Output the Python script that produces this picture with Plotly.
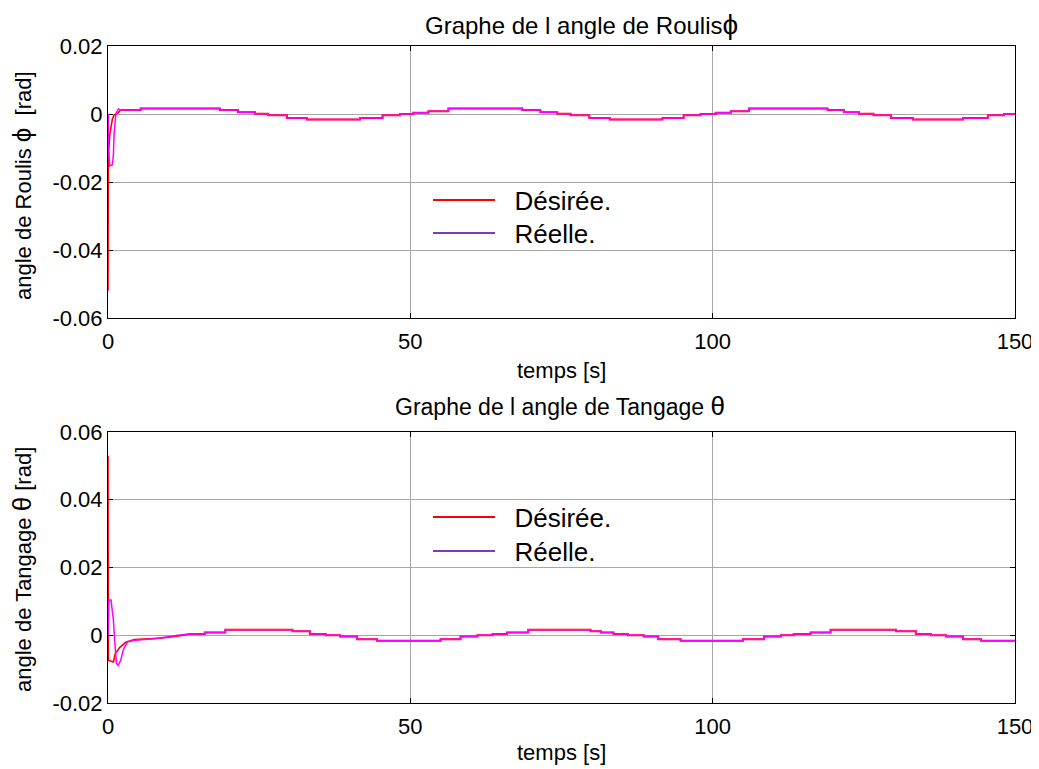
import plotly.graph_objects as go

# ---------------- data ----------------
x_ticks = [0, 50, 100, 150]
x_tick_labels = ["0", "50", "100", "150"]
phi_ticks = [-0.06, -0.04, -0.02, 0, 0.02]
phi_tick_labels = ["-0.06", "-0.04", "-0.02", "0", "0.02"]
theta_ticks = [-0.02, 0, 0.02, 0.04, 0.06]
theta_tick_labels = ["-0.02", "0", "0.02", "0.04", "0.06"]

# Roll angle phi : start-up transient
phi_des_tr_t = [0, 0.05, 0.3, 0.44, 0.72, 1.0, 1.6, 2.1]
phi_des_tr_v = [-0.052, -0.012, -0.006, -0.0039, -0.0015, -0.0003, 0.0002, 0.0012]
phi_real_tr_t = [0, 0.05, 0.3, 0.72, 0.9, 1.0, 1.3, 1.7, 2.1]
phi_real_tr_v = [0, -0.009, -0.0153, -0.015, -0.0118, -0.0059, 0.0, 0.0015, 0.0012]
phi_init_t = [0, 0.02]
phi_init_v = [0, -0.012]
# Roll angle phi : stair-like steady part
phi_t = [2.1, 5.4, 18.5, 21.5, 24.3, 26.5, 29.6, 32.9, 41.7, 45.4, 48.3, 50.5,
         53.0, 56.3, 68.5, 71.5, 74.3, 76.5, 79.6, 83.0, 91.7, 95.2, 98.0, 100.5,
         103.0, 106.0, 119.0, 121.7, 124.2, 126.6, 129.5, 133.1, 141.4, 145.5,
         148.2, 150]
phi_v = [0.0012, 0.0016, 0.0012, 0.0005, 0.0001, -0.0004, -0.0012, -0.0016,
         -0.0012, -0.0004, 0.0, 0.0004, 0.0008, 0.0016, 0.0012, 0.0005, 0.0001,
         -0.0004, -0.0012, -0.0016, -0.0012, -0.0004, 0.0, 0.0004, 0.0008,
         0.0016, 0.0012, 0.0005, 0.0001, -0.0004, -0.0012, -0.0016, -0.0012,
         -0.0004, 0.0, 0.0]

# Pitch angle theta : start-up transient
theta_des_tr_t = [0, 0.05, 0.9, 1.2, 2.0, 3.0, 4.4, 7.0, 9.0, 11.4, 13.6]
theta_des_tr_v = [0.053, -0.0074, -0.0079, -0.0054, -0.0035, -0.002, -0.0013,
                  -0.001, -0.0008, -0.0003, 0.0004]
theta_real_tr_t = [0, 0.15, 0.5, 0.9, 1.1, 1.4, 1.7, 2.1, 2.5, 3.2, 4.4, 7.7,
                   11.5, 13.6]
theta_real_tr_v = [0, 0.0104, 0.0104, 0.0044, -0.0015, -0.0083, -0.0089,
                   -0.0074, -0.0044, -0.002, -0.0015, -0.001, 0.0, 0.0004]
theta_init_t = [0, 0.02]
theta_init_v = [0, 0.0104]
# Pitch angle theta : stair-like steady part
theta_t = [13.6, 16.0, 19.4, 30.5, 33.4, 36.0, 38.4, 41.2, 44.5, 55.0, 58.3,
           61.1, 63.6, 66.0, 69.5, 79.8, 81.5, 83.6, 86.0, 88.6, 91.0, 94.7,
           105.0, 108.5, 111.3, 113.4, 116.2, 119.5, 130.3, 133.6, 136.1,
           138.6, 141.4, 144.4, 150]
theta_v = [0.0004, 0.0008, 0.0016, 0.0012, 0.0004, 0.0, -0.0004, -0.0012,
           -0.0016, -0.0012, -0.0004, 0.0, 0.0004, 0.0008, 0.0016, 0.0012,
           0.0008, 0.0004, 0.0, -0.0004, -0.0012, -0.0016, -0.0012, -0.0004,
           0.0, 0.0004, 0.0008, 0.0016, 0.0012, 0.0004, 0.0, -0.0004, -0.0012,
           -0.0016, -0.0016]

legend_labels = ["Désirée.", "Réelle."]

# ---------------- styles ----------------
RED = "#FF0000"
MAGENTA = "#FF00FF"
PURPLE = "#7B3BB5"
FONT = "Liberation Sans, Arial, sans-serif"

fig = go.Figure()


def add(x, y, color, width, xa, ya, shape="linear"):
    fig.add_trace(go.Scatter(x=x, y=y, mode="lines", xaxis=xa, yaxis=ya,
                             line=dict(color=color, width=width, shape=shape),
                             showlegend=False, hoverinfo="skip"))


# top subplot
add(phi_des_tr_t, phi_des_tr_v, RED, 1.6, "x", "y")
add(phi_t, phi_v, RED, 2.0, "x", "y", "hv")
add(phi_init_t, phi_init_v, PURPLE, 2, "x", "y")
add(phi_real_tr_t, phi_real_tr_v, MAGENTA, 1.5, "x", "y")
add(phi_t, phi_v, MAGENTA, 1.5, "x", "y", "hv")
# bottom subplot
add(theta_des_tr_t, theta_des_tr_v, RED, 1.6, "x2", "y2")
add(theta_t, theta_v, RED, 2.0, "x2", "y2", "hv")
add(theta_init_t, theta_init_v, PURPLE, 2, "x2", "y2")
add(theta_real_tr_t, theta_real_tr_v, MAGENTA, 1.5, "x2", "y2")
add(theta_t, theta_v, MAGENTA, 1.5, "x2", "y2", "hv")

# legend entries (one legend per entry so that spacing matches)
GAP = "\u00a0\u00a0"
leg_specs = [("legend", legend_labels[0], RED, "x", "y"),
             ("legend2", legend_labels[1], PURPLE, "x", "y"),
             ("legend3", legend_labels[0], RED, "x2", "y2"),
             ("legend4", legend_labels[1], PURPLE, "x2", "y2")]
for lg, name, col, xa, ya in leg_specs:
    fig.add_trace(go.Scatter(x=[None], y=[None], mode="lines", name=GAP + name,
                             line=dict(color=col, width=2), xaxis=xa, yaxis=ya,
                             legend=lg, showlegend=True))

# The page body has an 8px margin: size the figure so the plot areas land
# at the same screen pixels as the reference.
OFF = 8
W, H = 1039 - OFF, 769 - OFF
L_M, R_M, T_M, B_M = 108 - OFF, 24, 46 - OFF, 66
PW = W - L_M - R_M
PH = H - T_M - B_M


def py(p):  # screen pixel y -> paper
    return (OFF + H - B_M - p) / PH


def px(p):  # screen pixel x -> paper
    return (p - OFF - L_M) / PW


axis_common = dict(showline=True, linecolor="black", linewidth=1, mirror="ticks",
                   ticks="inside", ticklen=5, tickcolor="black", showgrid=True,
                   gridcolor="#a6a6a6", gridwidth=1, zeroline=False,
                   tickfont=dict(family=FONT, size=22, color="black"),
                   layer="below traces")

leg_common = dict(font=dict(family=FONT, size=26, color="black"),
                  bgcolor="rgba(0,0,0,0)", borderwidth=0, itemwidth=62,
                  xanchor="left", yanchor="middle", itemclick=False)

fig.update_layout(
    width=W, height=H,
    margin=dict(l=L_M, r=R_M, t=T_M, b=B_M, autoexpand=False),
    paper_bgcolor="white", plot_bgcolor="white",
    font=dict(family=FONT, color="black"),
    xaxis=dict(domain=[0, 1], range=[0, 150], anchor="y", tickvals=x_ticks,
               ticktext=x_tick_labels, ticklabelstandoff=4, **axis_common),
    yaxis=dict(domain=[py(318), 1], range=[-0.06, 0.02], anchor="x",
               tickvals=phi_ticks, ticktext=phi_tick_labels, **axis_common),
    xaxis2=dict(domain=[0, 1], range=[0, 150], anchor="y2", tickvals=x_ticks,
                ticktext=x_tick_labels, ticklabelstandoff=4, **axis_common),
    yaxis2=dict(domain=[0, py(432)], range=[-0.02, 0.06], anchor="x2",
                tickvals=theta_ticks, ticktext=theta_tick_labels, **axis_common),
    legend=dict(x=px(428), y=py(200), **leg_common),
    legend2=dict(x=px(428), y=py(233), **leg_common),
    legend3=dict(x=px(428), y=py(517), **leg_common),
    legend4=dict(x=px(428), y=py(551), **leg_common),
)

ann = [
    ("Graphe de l angle de Roulis<span style='font-size:28px'>ϕ</span>",
     581, 25, 24, 0),
    ("Graphe de l angle de Tangage <span style='font-size:26px'>θ</span>",
     560, 406, 23, 0),
    ("temps [s]", 561, 370, 22, 0),
    ("temps [s]", 561, 752, 22, 0),
    ("angle de Roulis <span style='font-size:26px'>ϕ</span>  [rad]",
     22, 186, 22, -90),
    ("angle de Tangage <span style='font-size:26px'>θ</span> [rad]",
     22, 570, 22, -90),
]
for text, x, y, size, ang in ann:
    fig.add_annotation(xref="paper", yref="paper", showarrow=False,
                       xanchor="center", yanchor="middle", text=text,
                       x=px(x), y=py(y), textangle=ang,
                       font=dict(family=FONT, color="black", size=size))

fig.write_html("out.html")
